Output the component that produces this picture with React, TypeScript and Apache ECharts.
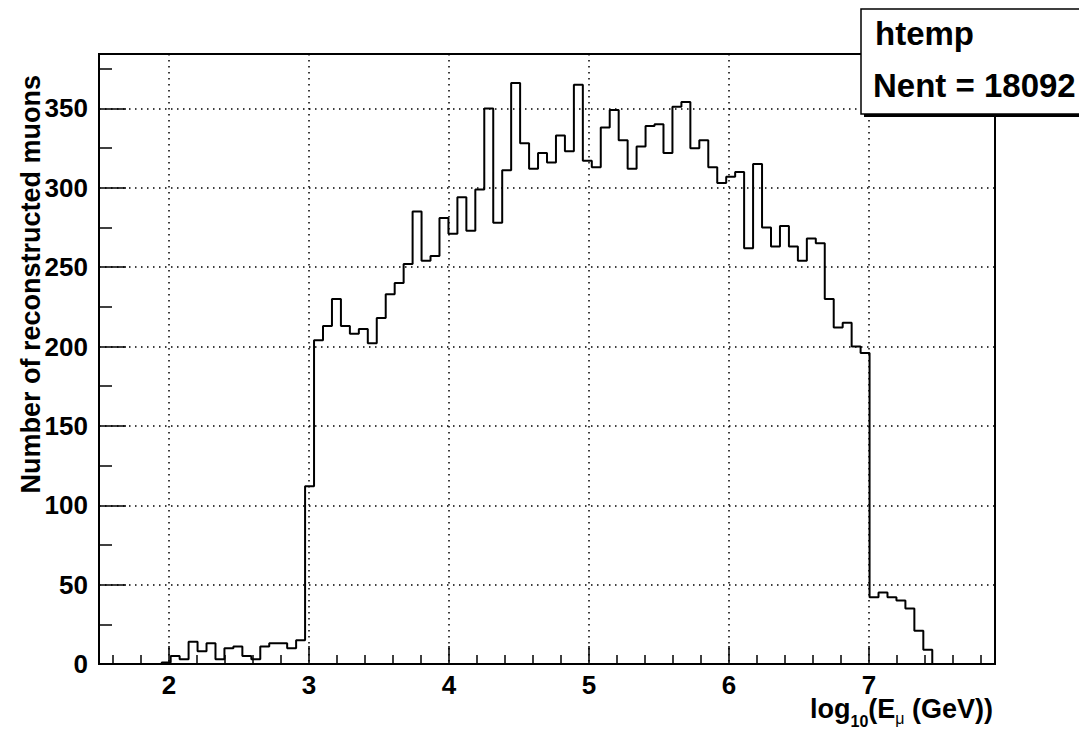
import React, { useEffect, useRef } from "react";
import * as echarts from "echarts";

// Histogram "htemp": 100 bins of log10(E_mu / GeV) between 1.5 and 7.9
const X_MIN = 1.5;
const X_MAX = 7.9;
const BIN_COUNT = 100;

const binCounts: number[] = [
  0, 0, 0, 0, 0, 0, 0,
  1, 5, 3, 14, 8, 13, 3, 10, 11, 5, 3, 11, 13, 13, 10, 15,
  112,
  204, 213, 230, 213, 208, 211, 202, 218, 233, 240, 252, 285, 254, 257, 281, 271, 294, 273, 299,
  350, 278, 311, 366, 328, 312, 322, 316, 333, 323, 365, 317, 313, 338, 349, 330, 312, 326,
  339, 340, 322, 351, 354, 325, 330, 313, 303, 307, 310, 262, 315, 275, 263, 276, 263, 254, 268, 265, 230, 212, 215, 200, 196,
  42, 45, 42, 40, 35, 21, 9,
  0, 0, 0, 0, 0, 0, 0,
];

const xMajorStep = 1;
const yMajorStep = 50;

const histName = "htemp";
const entriesLabel = "Nent = 18092";
const yTitle = "Number of reconstructed muons";
const xTitleParts = [
  { text: "log", sub: false },
  { text: "10", sub: true },
  { text: "(E", sub: false },
  { text: "\u03bc", sub: true },
  { text: " (GeV))", sub: false },
];

const FONT = '"Liberation Sans", Arial, Helvetica, sans-serif';

function measure(text: string, size: number, weight = "bold"): number {
  const c = document.createElement("canvas").getContext("2d");
  if (!c) return text.length * size * 0.55;
  c.font = `${weight} ${size}px ${FONT}`;
  return c.measureText(text).width;
}

export default function App() {
  const ref = useRef<HTMLDivElement>(null);

  useEffect(() => {
    if (!ref.current) return;
    const chart = echarts.init(ref.current, undefined, { renderer: "svg" });

    const binWidth = (X_MAX - X_MIN) / BIN_COUNT;
    const stepPoints: number[][] = [];
    binCounts.forEach((c, k) => {
      stepPoints.push([X_MIN + k * binWidth, c]);
      stepPoints.push([X_MIN + (k + 1) * binWidth, c]);
    });
    const yMax = Math.max(...binCounts) * 1.05;

    const isMultiple = (v: number, step: number) =>
      Math.abs(v / step - Math.round(v / step)) < 1e-6;

    // x-axis title with subscripts, right-aligned to the frame edge
    const mainSize = 27;
    const subSize = 16;
    const titleRight = 993;
    const weights = xTitleParts.map((p) => (p.text === "\u03bc" ? "normal" : "bold"));
    const widths = xTitleParts.map((p, i) =>
      measure(p.text, p.sub ? subSize : mainSize, weights[i])
    );
    let cursor = titleRight - widths.reduce((a, b) => a + b, 0);
    const xTitleEls = xTitleParts.map((p, i) => {
      const size = p.sub ? subSize : mainSize;
      const baseline = p.sub ? (p.text === "10" ? 727 : 724) : 718;
      const el = {
        type: "text",
        x: cursor,
        y: baseline - 0.35 * size,
        style: {
          text: p.text,
          font: `${weights[i]} ${size}px ${FONT}`,
          lineHeight: p.sub ? 14 : 20,
          fill: "#000",
          textAlign: "left",
          textVerticalAlign: "middle",
        },
      };
      cursor += widths[i];
      return el;
    });

    const axisLabelStyle = {
      color: "#000",
      fontSize: 26,
      fontWeight: "bold" as const,
      fontFamily: FONT,
    };
    const gridLine = {
      show: true,
      showMinLine: false,
      showMaxLine: false,
      lineStyle: { color: "#000", width: 1.5, type: [1.5, 4.5] as number[] },
    };

    chart.setOption({
      animation: false,
      backgroundColor: "#fff",
      grid: {
        left: 99,
        right: 84,
        top: 54,
        bottom: 66,
        show: true,
        borderColor: "#000",
        borderWidth: 2,
        backgroundColor: "transparent",
      },
      xAxis: {
        type: "value",
        min: X_MIN,
        max: X_MAX,
        splitNumber: 6,
        axisLine: { show: true, lineStyle: { color: "#000", width: 2 } },
        axisTick: { show: true, inside: true, length: 18, lineStyle: { color: "#000", width: 1.5 } },
        minorTick: { show: true, splitNumber: 5, length: 9, lineStyle: { color: "#000", width: 1.5 } },
        axisLabel: {
          ...axisLabelStyle,
          margin: 12,
          lineHeight: 18,
          formatter: (v: number) => (isMultiple(v, xMajorStep) ? String(Math.round(v)) : ""),
        },
        splitLine: gridLine,
      },
      yAxis: {
        type: "value",
        min: 0,
        max: yMax,
        interval: yMajorStep,
        axisLine: { show: true, lineStyle: { color: "#000", width: 2 } },
        axisTick: { show: true, inside: true, length: 27, lineStyle: { color: "#000", width: 1.5 } },
        minorTick: { show: true, splitNumber: 2, length: 13, lineStyle: { color: "#000", width: 1.5 } },
        axisLabel: {
          ...axisLabelStyle,
          margin: 11,
          formatter: (v: number) => (isMultiple(v, yMajorStep) ? String(Math.round(v)) : ""),
        },
        splitLine: gridLine,
      },
      series: [
        {
          type: "line",
          data: stepPoints,
          symbol: "none",
          lineStyle: { color: "#000", width: 2 },
          z: 5,
        },
      ],
      graphic: [
        {
          type: "text",
          x: 31,
          y: 75,
          rotation: Math.PI / 2,
          style: {
            text: yTitle,
            font: `bold 27px ${FONT}`,
            fill: "#000",
            textAlign: "right",
            textVerticalAlign: "middle",
          },
        },
        ...xTitleEls,
        // statistics box with drop shadow
        {
          type: "rect",
          shape: { x: 864, y: 12, width: 230, height: 105 },
          style: { fill: "#000" },
          z: 10,
        },
        {
          type: "rect",
          shape: { x: 861, y: 9, width: 230, height: 105 },
          style: { fill: "#fff", stroke: "#000", lineWidth: 1.5 },
          z: 11,
        },
        {
          type: "text",
          x: 875,
          y: 45 - 0.35 * 33,
          z: 12,
          style: {
            text: histName,
            font: `bold 33px ${FONT}`,
            fill: "#000",
            textAlign: "left",
            textVerticalAlign: "middle",
          },
        },
        {
          type: "text",
          x: 873,
          y: 97 - 0.35 * 33,
          z: 12,
          style: {
            text: entriesLabel,
            font: `bold 33px ${FONT}`,
            fill: "#000",
            textAlign: "left",
            textVerticalAlign: "middle",
          },
        },
      ],
    });

    return () => chart.dispose();
  }, []);

  return (
    <div
      ref={ref}
      style={{ position: "fixed", left: 0, top: 0, width: 1079, height: 730, background: "#fff" }}
    />
  );
}
